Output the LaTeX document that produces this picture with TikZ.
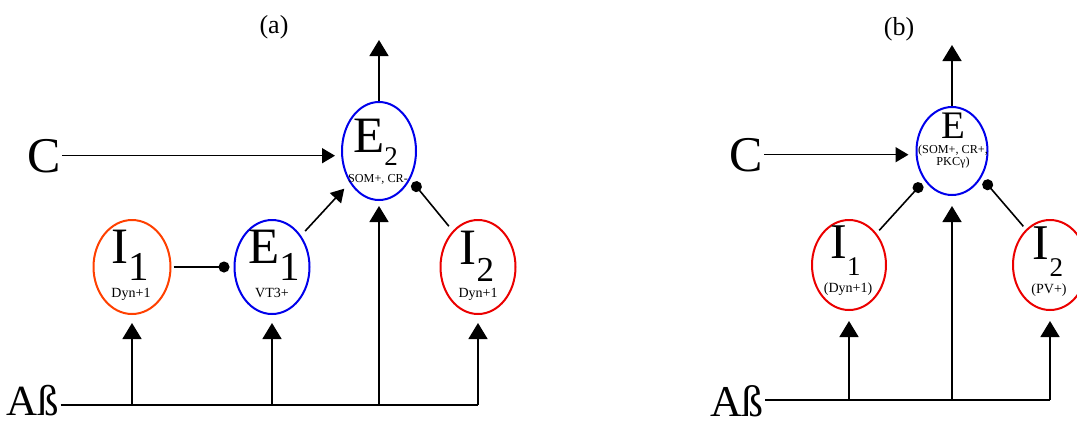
\documentclass[tikz,border=0pt]{standalone}
\usepackage{fontspec}
\setmainfont{Liberation Serif}
\newfontfamily\cellfont{Liberation Serif}
\usetikzlibrary{arrows.meta,shapes.geometric}

\definecolor{excblue}{RGB}{0,0,235}
\definecolor{inhred}{RGB}{235,0,0}
\definecolor{inhorange}{RGB}{255,64,0}

\newcommand{\fs}[1]{\cellfont\fontsize{#1}{#1}\selectfont}
\newcommand{\lowsub}[3]{\raisebox{-#1pt}{\fs{#2}#3}}

\tikzset{
  cell/.style={ellipse, draw, line width=1pt, inner sep=0pt,
    minimum width=37.5pt, minimum height=47pt},
  letter/.style={inner sep=0pt, anchor=base, font=\fs{25.5}},
  tag/.style={inner sep=0pt, anchor=base, font=\fs{7}},
  side/.style={inner sep=0.5pt, anchor=base, font=\fs{25}},
  panel/.style={inner sep=0pt, anchor=base, font=\fs{13}},
  wire/.style={line width=0.8pt},
  exc/.style={wire, -{Triangle[length=8pt,width=9.5pt]}},
  excs/.style={wire, -{Triangle[length=6.5pt,width=7.5pt]}},
  inh/.style={wire, -{Circle[length=5.5pt]}},
}

\begin{document}
\begin{tikzpicture}[x=0.5pt, y=-0.5pt]
    \useasboundingbox (0,0) rectangle (1077,424);

    % ---- (a) ----
    \node[panel] (la) at (274,33) {(a)};

    % Cells
    \node[cell, draw=inhorange, minimum width=38.5pt] (I1a) at (132,267) {};
    \node[cell, draw=excblue] (E1a) at (272,267) {};
    \node[cell, draw=inhred] (I2a) at (478,267) {};
    \node[cell, draw=excblue, minimum width=37pt, minimum height=49pt] (E2a) at (379,151) {};

    % Cell names and markers
    \node[letter] (I1aN) at (130,263) {I\lowsub{8.5}{20.5}{1}};
    \node[tag] (I1aT) at (131,297) {Dyn+1};
    \node[letter] (E1aN) at (274,263) {E\lowsub{8.5}{20.5}{1}};
    \node[tag] (E1aT) at (272,297) {VT3+};
    \node[letter] (I2aN) at (477,264) {I\lowsub{8.5}{17.5}{2}};
    \node[tag] (I2aT) at (478,297.5) {Dyn+1};
    \node[letter] (E2aN) at (375.5,152) {E\lowsub{6.5}{13.5}{2}};
    \node[tag, font=\fs{6.1}] (E2aT) at (378,182) {SOM+, CR-};

    % Inputs
    \node[side] (Ca) at (44,172) {C};
    \node[side, font=\fs{21.5}] (Aba) at (33,415) {Aß};

    % Output and C input
    \coordinate (E2aOut) at (379,40);
    \draw[exc] (E2a) -- (E2aOut);
    \draw[excs, shorten >=3pt] (Ca.east) -- (Ca.east -| E2a.west);

    % Aß bus
    \coordinate (busa) at ([yshift=5pt]Aba.base east);
    \draw[wire] (busa) -- (busa -| I2a);
    \foreach \c/\s in {I1a/4pt, E1a/4pt, E2a/2.5pt, I2a/4pt}
        \draw[exc, shorten >=\s] (busa -| \c) -- (\c);

    % Local links
    \draw[inh, shorten <=1pt, shorten >=2pt] (I1a) -- (E1a);
    \draw[excs, shorten <=3pt, shorten >=4pt] (E1a) -- (E2a);
    \draw[inh, shorten <=3pt, shorten >=2pt] (I2a.125) -- (E2a.-42);

    % ---- (b) ----
    \node[panel] (lb) at (899,35) {(b)};

    % Cells
    \node[cell, draw=excblue, minimum width=35.5pt, minimum height=44pt] (Eb) at (952,151) {};
    \node[cell, draw=inhred, minimum width=37pt, minimum height=45pt] (I1b) at (849,265) {};
    \node[cell, draw=inhred, minimum width=37pt, minimum height=45pt] (I2b) at (1050,265) {};

    % Cell names and markers
    \node[letter, font=\fs{19.5}] (EbN) at (953,138) {E};
    \node[tag, font=\fs{6.1}] (EbT1) at (953,153) {(SOM+, CR+,};
    \node[tag, font=\fs{6.1}] (EbT2) at (953,165) {PKCγ)};
    \node[letter, font=\fs{25}] (I1bN) at (845.5,258) {I\lowsub{8.5}{13.5}{1}};
    \node[tag] (I1bT) at (848,292) {(Dyn+1)};
    \node[letter, font=\fs{25}] (I2bN) at (1048,259) {I\lowsub{8.5}{13.5}{2}};
    \node[tag] (I2bT) at (1049,293) {(PV+)};

    % Inputs
    \node[side] (Cb) at (746,171) {C};
    \node[side, font=\fs{22}] (Abb) at (737,416) {Aß};

    % Output and C input
    \coordinate (EbOut) at (952,45);
    \draw[exc] (Eb) -- (EbOut);
    \draw[excs, shorten >=3.5pt] (Cb.east) -- (Cb.east -| Eb.west);

    % Aß bus
    \coordinate (busb) at ([yshift=8pt]Abb.base east);
    \draw[wire] (busb) -- (busb -| I2b);
    \foreach \c in {I1b, Eb, I2b}
        \draw[exc, shorten >=5pt] (busb -| \c) -- (\c);

    % Local links
    \draw[inh, shorten <=2pt, shorten >=2pt] (I1b.49) -- (Eb.-133);
    \draw[inh, shorten <=2pt, shorten >=2pt] (I2b.124) -- (Eb.-42);
\end{tikzpicture}
\end{document}
